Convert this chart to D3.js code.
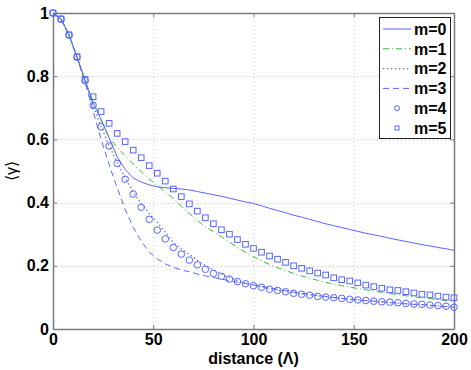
<!DOCTYPE html>
<html>
<head>
<meta charset="utf-8">
<script src="https://cdn.jsdelivr.net/npm/d3@7"></script>
<style>
  body { margin: 0; background: #fff; }
  svg { display: block; font-family: "Liberation Sans", Arial, sans-serif; }
</style>
</head>
<body>
<div id="chart"></div>
<script>
// sample positions (distance in Lambda) used for every series
var dist = [0, 4, 8, 12, 16, 20, 24, 28, 32, 36, 40, 44, 48, 52, 56, 60, 64, 68, 72, 76,
            80, 84, 88, 92, 96, 100, 104, 108, 112, 116, 120, 124, 128, 132, 136, 140, 144, 148, 152, 156,
            160, 164, 168, 172, 176, 180, 184, 188, 192, 196, 200];

var m0 = [1, 0.981, 0.930, 0.860, 0.787, 0.716, 0.663, 0.605, 0.545, 0.505, 0.478, 0.465, 0.456, 0.450, 0.447, 0.445, 0.443, 0.440, 0.435, 0.430,
          0.425, 0.420, 0.414, 0.408, 0.402, 0.397, 0.390, 0.382, 0.375, 0.368, 0.360, 0.354, 0.347, 0.340, 0.333, 0.327, 0.321, 0.315, 0.309, 0.303,
          0.298, 0.293, 0.287, 0.282, 0.277, 0.272, 0.267, 0.263, 0.258, 0.254, 0.249];
var m1 = [1, 0.981, 0.930, 0.860, 0.787, 0.720, 0.660, 0.605, 0.575, 0.548, 0.522, 0.498, 0.475, 0.454, 0.434, 0.413, 0.389, 0.366, 0.343, 0.324,
          0.308, 0.292, 0.275, 0.258, 0.243, 0.229, 0.216, 0.204, 0.194, 0.185, 0.176, 0.168, 0.161, 0.154, 0.148, 0.142, 0.137, 0.133, 0.128, 0.124,
          0.120, 0.116, 0.112, 0.109, 0.105, 0.102, 0.099, 0.096, 0.093, 0.090, 0.087];
var m2 = [1, 0.981, 0.930, 0.860, 0.785, 0.706, 0.640, 0.580, 0.527, 0.478, 0.433, 0.397, 0.366, 0.337, 0.307, 0.274, 0.254, 0.236, 0.218, 0.201,
          0.187, 0.174, 0.163, 0.153, 0.145, 0.139, 0.133, 0.128, 0.123, 0.119, 0.115, 0.111, 0.108, 0.105, 0.102, 0.099, 0.097, 0.094, 0.092, 0.090,
          0.088, 0.086, 0.084, 0.082, 0.080, 0.079, 0.077, 0.075, 0.073, 0.071, 0.069];
var m3 = [1, 0.981, 0.930, 0.860, 0.780, 0.690, 0.600, 0.520, 0.447, 0.378, 0.322, 0.278, 0.243, 0.222, 0.206, 0.195, 0.187, 0.181, 0.174, 0.168,
          0.163, 0.158, 0.153, 0.148, 0.144, 0.140, 0.135, 0.130, 0.126, 0.122, 0.117, 0.113, 0.110, 0.106, 0.103, 0.100, 0.097, 0.095, 0.092, 0.090,
          0.088, 0.086, 0.084, 0.082, 0.080, 0.078, 0.077, 0.075, 0.073, 0.071, 0.069];
var m4 = [1, 0.981, 0.930, 0.860, 0.786, 0.708, 0.640, 0.579, 0.524, 0.474, 0.427, 0.385, 0.347, 0.313, 0.285, 0.258, 0.237, 0.218, 0.203, 0.189,
          0.176, 0.167, 0.158, 0.150, 0.143, 0.137, 0.132, 0.126, 0.122, 0.118, 0.113, 0.110, 0.107, 0.103, 0.101, 0.099, 0.097, 0.094, 0.092, 0.090,
          0.088, 0.086, 0.085, 0.083, 0.081, 0.079, 0.078, 0.076, 0.074, 0.072, 0.069];
var m5 = [1, 0.981, 0.931, 0.862, 0.790, 0.735, 0.688, 0.651, 0.619, 0.593, 0.566, 0.542, 0.517, 0.493, 0.468, 0.443, 0.419, 0.396, 0.373, 0.352,
          0.333, 0.314, 0.300, 0.283, 0.268, 0.255, 0.243, 0.231, 0.221, 0.211, 0.200, 0.192, 0.184, 0.177, 0.171, 0.162, 0.156, 0.152, 0.146, 0.139,
          0.134, 0.129, 0.124, 0.122, 0.118, 0.114, 0.110, 0.108, 0.104, 0.101, 0.099];

var xTicks = [0, 50, 100, 150, 200];
var yTicks = [0, 0.2, 0.4, 0.6, 0.8, 1];
var yTickLabels = ['0', '0.2', '0.4', '0.6', '0.8', '1'];
var seriesNames = ['m=0', 'm=1', 'm=2', 'm=3', 'm=4', 'm=5'];

var width = 471, height = 370;
var margin = { left: 53, top: 13, right: 17, bottom: 41 };
var plotW = width - margin.left - margin.right;
var plotH = height - margin.top - margin.bottom;

var blue = '#5566ff';
var green = '#33bb33';

// how each series is drawn
var styles = [
  { values: m0, kind: 'line', color: blue, dash: null },
  { values: m1, kind: 'line', color: green, dash: '6,3,1,3' },
  { values: m2, kind: 'line', color: blue, dash: '1.3,2.7' },
  { values: m3, kind: 'line', color: blue, dash: '6,4' },
  { values: m4, kind: 'circle', color: blue },
  { values: m5, kind: 'square', color: blue }
];

var svg = d3.select('#chart')
  .append('svg')
  .attr('width', width)
  .attr('height', height);

var x = d3.scaleLinear().domain([0, 200]).range([0, plotW]);
var y = d3.scaleLinear().domain([0, 1]).range([plotH, 0]);

var g = svg.append('g')
  .attr('transform', 'translate(' + margin.left + ',' + margin.top + ')');

// grid
g.append('g').selectAll('line')
  .data(xTicks.slice(1, -1))
  .enter().append('line')
  .attr('x1', d => x(d) + 0.5).attr('x2', d => x(d) + 0.5)
  .attr('y1', 0).attr('y2', plotH)
  .attr('stroke', '#c4c4c4').attr('stroke-dasharray', '1,3');
g.append('g').selectAll('line')
  .data(yTicks.slice(1, -1))
  .enter().append('line')
  .attr('y1', d => Math.round(y(d)) + 0.5).attr('y2', d => Math.round(y(d)) + 0.5)
  .attr('x1', 0).attr('x2', plotW)
  .attr('stroke', '#c4c4c4').attr('stroke-dasharray', '1,3');

// axes (inward ticks on all four sides, matlab style)
var xAxisB = d3.axisBottom(x).tickValues(xTicks).tickSizeInner(-4).tickSizeOuter(0).tickPadding(5);
var xAxisT = d3.axisTop(x).tickValues(xTicks).tickSizeInner(-4).tickSizeOuter(0).tickFormat('');
var yAxisL = d3.axisLeft(y).tickValues(yTicks).tickSizeInner(-4).tickSizeOuter(0).tickPadding(4)
  .tickFormat((d, i) => yTickLabels[i]);
var yAxisR = d3.axisRight(y).tickValues(yTicks).tickSizeInner(-4).tickSizeOuter(0).tickFormat('');

function styleAxis(sel) {
  sel.select('.domain').attr('stroke', '#7a7a7a').attr('stroke-width', 1.5);
  sel.selectAll('.tick line').attr('stroke', '#7a7a7a');
  sel.selectAll('.tick text')
    .attr('fill', '#000')
    .style('font-size', '16px')
    .style('font-weight', 'bold')
    .style('font-family', '"Liberation Sans", Arial, sans-serif');
}

g.append('g').attr('transform', 'translate(0,' + plotH + ')').call(xAxisB).call(styleAxis);
g.append('g').call(xAxisT).call(styleAxis);
g.append('g').call(yAxisL).call(styleAxis);
g.append('g').attr('transform', 'translate(' + plotW + ',0)').call(yAxisR).call(styleAxis);

// series
var line = d3.line()
  .x((d, i) => x(dist[i]))
  .y(d => y(d));

styles.forEach(function (s) {
  if (s.kind === 'line') {
    g.append('path')
      .datum(s.values)
      .attr('fill', 'none')
      .attr('stroke', s.color)
      .attr('stroke-width', s.dash === '1.3,2.7' ? 1.3 : 1)
      .attr('stroke-dasharray', s.dash)
      .attr('d', line);
  } else if (s.kind === 'circle') {
    g.append('g').selectAll('circle')
      .data(s.values)
      .enter().append('circle')
      .attr('cx', (d, i) => x(dist[i]))
      .attr('cy', d => y(d))
      .attr('r', 3.3)
      .attr('fill', 'none')
      .attr('stroke', s.color)
      .attr('stroke-width', 1);
  } else {
    g.append('g').selectAll('rect')
      .data(s.values)
      .enter().append('rect')
      .attr('x', (d, i) => x(dist[i]) - 2.8)
      .attr('y', d => y(d) - 2.8)
      .attr('width', 5.6)
      .attr('height', 5.6)
      .attr('fill', 'none')
      .attr('stroke', s.color)
      .attr('stroke-width', 1);
  }
});

// axis titles
svg.append('text')
  .attr('x', margin.left + plotW / 2)
  .attr('y', 364)
  .attr('text-anchor', 'middle')
  .style('font-size', '16px')
  .style('font-weight', 'bold')
  .text('distance (\u039B)');

svg.append('text')
  .attr('transform', 'translate(17,' + (margin.top + plotH / 2) + ') rotate(-90)')
  .attr('text-anchor', 'middle')
  .style('font-size', '16px')
  .text('\u27E8\u03B3\u27E9');

// legend
var leg = svg.append('g').attr('transform', 'translate(379,17)');
leg.append('rect')
  .attr('x', 0.5).attr('y', 0.5)
  .attr('width', 71).attr('height', 121)
  .attr('fill', '#fff')
  .attr('stroke', '#222')
  .attr('stroke-width', 1);

var items = leg.selectAll('.item')
  .data(styles)
  .enter().append('g')
  .attr('transform', (d, i) => 'translate(0,' + (12 + i * 19.8) + ')');

items.each(function (s) {
  var it = d3.select(this);
  if (s.kind === 'line') {
    it.append('line')
      .attr('x1', 4).attr('x2', 32)
      .attr('y1', 0).attr('y2', 0)
      .attr('stroke', s.color)
      .attr('stroke-width', s.dash === '1.3,2.7' ? 1.3 : 1)
      .attr('stroke-dasharray', s.dash);
  } else if (s.kind === 'circle') {
    it.append('circle').attr('cx', 18).attr('cy', 0).attr('r', 2.5)
      .attr('fill', 'none').attr('stroke', s.color);
  } else {
    it.append('rect').attr('x', 16).attr('y', -2).attr('width', 4).attr('height', 4)
      .attr('fill', 'none').attr('stroke', s.color);
  }
});

items.append('text')
  .attr('x', 35)
  .attr('y', 0)
  .attr('dy', '0.36em')
  .style('font-size', '16px')
  .style('font-weight', 'bold')
  .text((d, i) => seriesNames[i]);
</script>
</body>
</html>
